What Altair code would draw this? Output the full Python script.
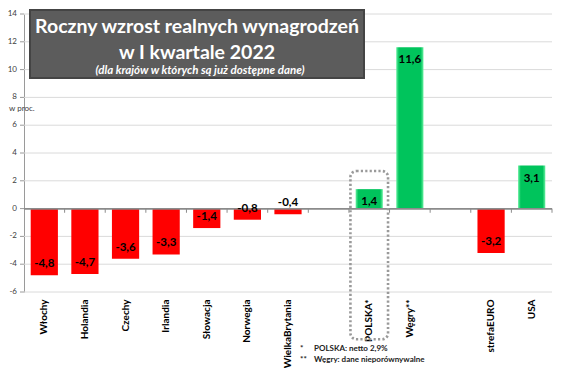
import altair as alt
import pandas as pd

# ---- data ----
categories = ["Włochy", "Holandia", "Czechy", "Irlandia", "Słowacja", "Norwegia",
              "WielkaBrytania", " ", "POLSKA*", "Węgry**", "  ", "strefaEURO", "USA"]
countries = ["Włochy", "Holandia", "Czechy", "Irlandia", "Słowacja", "Norwegia",
             "WielkaBrytania", "POLSKA*", "Węgry**", "strefaEURO", "USA"]
values = [-4.8, -4.7, -3.6, -3.3, -1.4, -0.8, -0.4, 1.4, 11.6, -3.2, 3.1]
y_ticks = [-6, -4, -2, 0, 2, 4, 6, 8, 10, 12, 14]
title_lines = ["Roczny wzrost realnych wynagrodzeń", "w I kwartale 2022"]
subtitle = "(dla krajów  w których są już dostępne dane)"
unit_label = "w proc."
footnote_marks = ["*", "**"]
footnote_texts = ["POLSKA: netto 2,9%", "Węgry: dane nieporównywalne"]
highlight = "POLSKA*"

df = pd.DataFrame({"kraj": countries, "v": values})
df["label"] = [f"{v:.1f}".replace(".", ",") for v in values]
cats_df = pd.DataFrame({"kraj": categories})
ticks_df = pd.DataFrame({"t": y_ticks, "lab": [str(t) for t in y_ticks]})

W, H = 528, 278
STEP = W / 13.0
FONT = "Lato"

xscale = alt.Scale(domain=categories, paddingInner=0.33, paddingOuter=0.165)
yscale = alt.Scale(domain=[-6, 14], nice=False, zero=False)

xaxis = alt.Axis(title=None, labelAngle=-90, labelFont=FONT, labelFontWeight="bold",
                 labelFontSize=10, labelColor="#000000", domain=False, ticks=False,
                 labelPadding=7, grid=False)
yaxis = alt.Axis(title=None, labels=False, ticks=False, grid=False,
                 domainColor="#9a9a9a")

X = alt.X("kraj:N", scale=xscale, axis=xaxis, sort=categories)
Xd = alt.X("kraj:N", scale=xscale, sort=categories)
Y = alt.Y("v:Q", scale=yscale, axis=yaxis)
Yd = alt.Y("v:Q", scale=yscale)

# gridlines, axis ticks and tick labels drawn from y_ticks through the y scale
grid = alt.Chart(ticks_df).mark_rule(color="#dadada", strokeWidth=1).encode(
    y=alt.Y("t:Q", scale=yscale))
yticks = alt.Chart(ticks_df).mark_rule(color="#9a9a9a").encode(
    y=alt.Y("t:Q", scale=yscale), x=alt.value(-4), x2=alt.value(0))
ylabels = alt.Chart(ticks_df).mark_text(
    font=FONT, fontSize=8, color="#404040", align="right", baseline="middle"
).encode(y=alt.Y("t:Q", scale=yscale), x=alt.value(-7), text="lab:N")

base = alt.Chart(df)
green = alt.Gradient(
    gradient="linear", x1=0, x2=1, y1=0, y2=0,
    stops=[alt.GradientStop(offset=0, color="#66f0a0"),
           alt.GradientStop(offset=0.1, color="#00c45c"),
           alt.GradientStop(offset=0.9, color="#00c45c"),
           alt.GradientStop(offset=1, color="#66f0a0")])

neg_bars = base.transform_filter("datum.v < 0").mark_bar(color="#ff0000").encode(x=X, y=Y)
pos_bars = base.transform_filter("datum.v > 0").mark_bar(color=green).encode(x=Xd, y=Yd)

neg_text = base.transform_filter("datum.v < 0").mark_text(
    font=FONT, fontWeight="bold", fontSize=11.5, color="#000", dy=-11, baseline="middle"
).encode(x=Xd, y=Yd, text="label:N")
pos_text = base.transform_filter("datum.v > 0").mark_text(
    font=FONT, fontWeight="bold", fontSize=11.5, color="#000", dy=13, baseline="middle"
).encode(x=Xd, y=Yd, text="label:N")

zero_line = alt.Chart(cats_df).mark_rule(color="#8c8c8c", strokeWidth=1).encode(
    y=alt.datum(0, scale=yscale))

zero_ticks = alt.Chart(cats_df).mark_rule(color="#8c8c8c", xOffset=STEP / 2).encode(
    x=Xd, y=alt.datum(0, scale=yscale), y2=alt.datum(-0.3))

box_df = pd.DataFrame({"kraj": [highlight], "top": [2.7], "bottom": [-9.4]})
dotted_box = alt.Chart(box_df).mark_bar(
    width=STEP - 3, fillOpacity=0, stroke="#9a9a9a", strokeWidth=2.6,
    strokeDash=[2.2, 2.2], cornerRadius=6
).encode(x=Xd, y=alt.Y("top:Q", scale=yscale), y2="bottom:Q")

one = pd.DataFrame({"a": [0]})
title_outer = alt.Chart(one).mark_rect(color="#444444").encode(
    x=alt.value(5), x2=alt.value(341), y=alt.value(-5), y2=alt.value(65))
title_inner = alt.Chart(one).mark_rect(color="#5c5c5c").encode(
    x=alt.value(7), x2=alt.value(339), y=alt.value(-3), y2=alt.value(63))

t_df = pd.DataFrame({"t": title_lines, "yy": [13, 39]})
title_text = alt.Chart(t_df).mark_text(
    font=FONT, fontWeight="bold", fontSize=19.5, color="white", align="center",
    baseline="middle").encode(x=alt.value(173), y=alt.Y("yy:Q", scale=None), text="t:N")
sub_text = alt.Chart(pd.DataFrame({"t": [subtitle]})).mark_text(
    font=FONT, fontWeight="bold", fontStyle="italic", fontSize=11.5, color="white",
    align="center", baseline="middle").encode(x=alt.value(176), y=alt.value(57), text="t:N")

unit_text = alt.Chart(pd.DataFrame({"t": [unit_label]})).mark_text(
    font=FONT, fontSize=8, color="#404040", align="left", baseline="middle"
).encode(x=alt.value(-15), y=alt.value(95), text="t:N")

fn_df = pd.DataFrame({"m": footnote_marks, "t": footnote_texts, "yy": [335, 346]})
fn_marks = alt.Chart(fn_df).mark_text(
    font=FONT, fontWeight="bold", fontSize=8, color="#222", align="left", baseline="middle"
).encode(x=alt.value(276), y=alt.Y("yy:Q", scale=None), text="m:N")
fn_texts = alt.Chart(fn_df).mark_text(
    font=FONT, fontWeight="bold", fontSize=8, color="#222", align="left", baseline="middle"
).encode(x=alt.value(290), y=alt.Y("yy:Q", scale=None), text="t:N")

chart = alt.layer(
    grid, neg_bars, pos_bars, zero_line, zero_ticks, yticks, ylabels, dotted_box,
    neg_text, pos_text, title_outer, title_inner, title_text, sub_text, unit_text,
    fn_marks, fn_texts
).properties(
    width=W, height=H, autosize="none",
    padding={"left": 16, "top": 6, "right": 4, "bottom": 76},
    background="white"
).configure_view(stroke=None)

chart.save("out.html", embed_options={"renderer": "svg", "actions": False})
